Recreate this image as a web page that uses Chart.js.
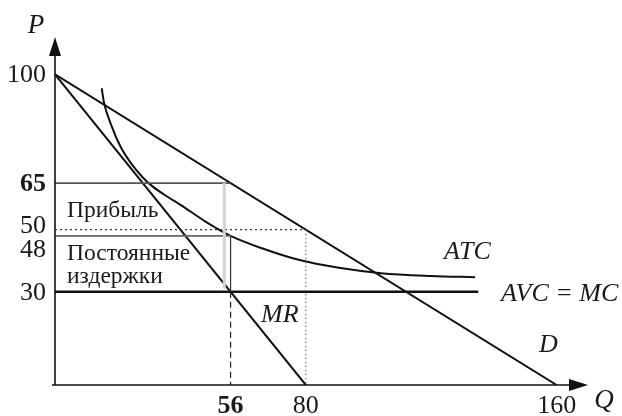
<!DOCTYPE html>
<html>
<head>
<meta charset="utf-8">
<script src="https://cdn.jsdelivr.net/npm/chart.js@4/dist/chart.umd.min.js"></script>
<style>
  html, body { margin: 0; padding: 0; background: #fff; }
  #wrap { width: 622px; height: 416px; }
</style>
</head>
<body>
<div id="wrap"><canvas id="c" width="622" height="416"></canvas></div>
<script>
// ---- data ----
const demandQ = [0, 160];
const demandP = [100, 0];
const mrQ = [0, 80];
const mrP = [100, 0];
const atcQ = [14.9, 15.6, 18, 21, 24.5, 28, 31, 36, 40, 48, 56, 66, 78, 90, 104, 120, 134];
const atcP = [95.5, 91, 83.5, 76.5, 71, 66.8, 64, 60.5, 58, 52.6, 48, 44, 40.2, 37.8, 36, 35.1, 34.7];
const mcQ = [0, 135];
const mcP = [30, 30];
const qOpt = 56;        // profit-maximising quantity
const pOpt = 65;        // price
const atcOpt = 48;      // ATC at optimum
const mcLevel = 30;     // AVC = MC
const qRev = 80;        // MR = 0
const pRev = 50;        // price at MR = 0
const qShade = 54;      // faint edge of the profit rectangle
const xTicks = [56, 80, 160];
const xTickLabels = ['56', '80', '160'];
const yTicks = [100, 65, 50, 48, 30];
const yTickLabels = ['100', '65', '50', '48', '30'];
const boldTicks = ['56', '65'];

const pts = (xs, ys) => xs.map((x, i) => ({ x: x, y: ys[i] }));
const line = (data, color, width, dash) => ({
  data: data, showLine: true, borderColor: color, borderWidth: width,
  borderDash: dash || [], pointRadius: 0, fill: false, tension: 0
});

const SERIF = '"Liberation Serif", "DejaVu Serif", serif';

const overlay = {
  id: 'overlay',
  afterDatasetsDraw(chart) {
    const ctx = chart.ctx;
    const xs = chart.scales.x, ys = chart.scales.y;
    const X = v => xs.getPixelForValue(v), Y = v => ys.getPixelForValue(v);
    const a = chart.chartArea;
    const x0 = X(0), y0 = Y(0);
    ctx.save();
    // axes
    ctx.strokeStyle = '#111'; ctx.fillStyle = '#111'; ctx.lineWidth = 1.6;
    ctx.beginPath(); ctx.moveTo(x0, y0); ctx.lineTo(x0, a.top + 14); ctx.stroke();
    ctx.beginPath(); ctx.moveTo(x0, a.top); ctx.lineTo(x0 - 6, a.top + 19); ctx.lineTo(x0 + 6, a.top + 19); ctx.closePath(); ctx.fill();
    ctx.beginPath(); ctx.moveTo(x0 - 3, y0); ctx.lineTo(a.right - 14, y0); ctx.stroke();
    ctx.beginPath(); ctx.moveTo(a.right, y0); ctx.lineTo(a.right - 19, y0 - 6); ctx.lineTo(a.right - 19, y0 + 6); ctx.closePath(); ctx.fill();

    ctx.fillStyle = '#1a1a1a';
    // y tick labels
    ctx.textAlign = 'right'; ctx.textBaseline = 'middle';
    const yOff = { '50': -4, '48': 13 };
    yTicks.forEach((v, i) => {
      const lab = yTickLabels[i];
      ctx.font = (boldTicks.includes(lab) ? 'bold ' : '') + '26px ' + SERIF;
      ctx.fillText(lab, x0 - 9, Y(v) + (yOff[lab] || 0) + 1);
    });
    // x tick labels
    ctx.textAlign = 'center'; ctx.textBaseline = 'middle';
    xTicks.forEach((v, i) => {
      const lab = xTickLabels[i];
      ctx.font = (boldTicks.includes(lab) ? 'bold ' : '') + '26px ' + SERIF;
      ctx.fillText(lab, X(v), y0 + 21);
    });
    // axis names
    ctx.font = 'italic 27px ' + SERIF;
    ctx.fillText('P', 36, 26);
    ctx.fillText('Q', 604, 401);
    // curve labels
    ctx.font = 'italic 26px ' + SERIF;
    ctx.textAlign = 'left';
    ctx.fillText('ATC', 444, 252);
    ctx.fillText('AVC = MC', 501, 294);
    ctx.fillText('D', 539, 345);
    ctx.fillText('MR', 261, 315);
    // area labels
    ctx.font = '23.5px ' + SERIF;
    ctx.fillText('Прибыль', 67, 211);
    ctx.fillText('Постоянные', 67, 254);
    ctx.fillText('издержки', 67, 277);
    ctx.restore();
  }
};

new Chart(document.getElementById('c'), {
  type: 'scatter',
  data: {
    datasets: [
      line([{ x: qShade, y: pOpt }, { x: qShade, y: mcLevel + 1 }], '#d4d4d4', 3),
      line([{ x: 0, y: pOpt }, { x: qOpt, y: pOpt }], '#555', 1.8),
      line([{ x: 0, y: atcOpt }, { x: qOpt, y: atcOpt }], '#666', 1.6),
      line([{ x: 0, y: pRev }, { x: qRev, y: pRev }], '#333', 1.3, [2, 3]),
      line([{ x: qRev, y: pRev }, { x: qRev, y: 0 }], '#777', 1.2, [1.5, 2.5]),
      line([{ x: qOpt, y: atcOpt }, { x: qOpt, y: mcLevel }], '#333', 1.2),
      line([{ x: qOpt, y: mcLevel }, { x: qOpt, y: 0 }], '#222', 1.2, [6, 4]),
      line(pts(mcQ, mcP), '#111', 2.6),
      line(pts(demandQ, demandP), '#111', 2),
      line(pts(mrQ, mrP), '#111', 2),
      Object.assign(line(pts(atcQ, atcP), '#111', 2), { cubicInterpolationMode: 'monotone' })
    ]
  },
  options: {
    responsive: false,
    devicePixelRatio: 1,
    animation: false,
    layout: { padding: { left: 55, right: 34, top: 37, bottom: 31 } },
    plugins: { legend: { display: false }, tooltip: { enabled: false } },
    scales: {
      x: { type: 'linear', min: 0, max: 170, display: false },
      y: { type: 'linear', min: 0, max: 112, display: false }
    }
  },
  plugins: [overlay]
});
</script>
</body>
</html>
